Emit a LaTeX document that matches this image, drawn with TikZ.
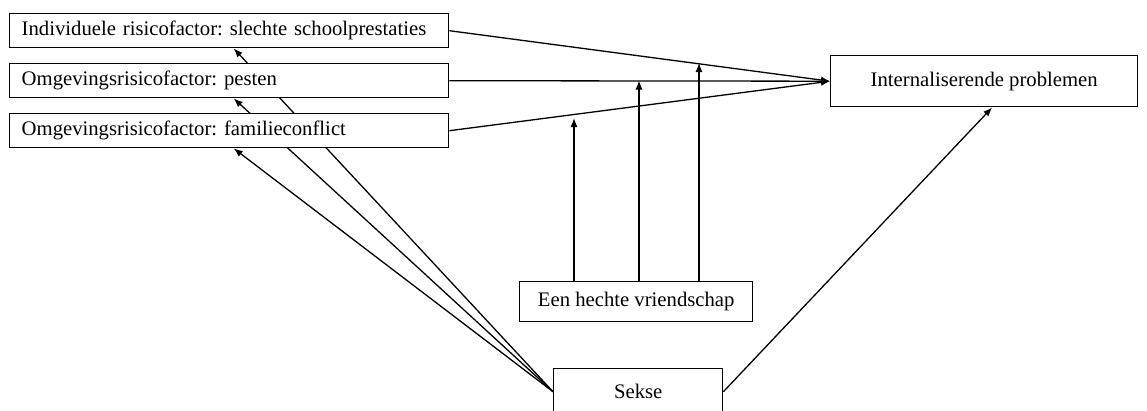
\documentclass[tikz,border=0pt]{standalone}
\usepackage{fontspec}
\setmainfont{Liberation Serif}
\usetikzlibrary{arrows.meta,calc,backgrounds}
\begin{document}
\frenchspacing
\begin{tikzpicture}[x=1pt,y=-1pt,
  box/.style={draw,line width=1.4pt,fill=white,rectangle,inner sep=0pt,font=\fontsize{20.7}{23}\selectfont},
  lbox/.style={box,minimum width=439pt,minimum height=34pt,text width=415pt,align=left},
  conn/.style={line width=1.3pt,-{Latex[length=9pt,width=7pt]}}]
\useasboundingbox (0,0) rectangle (1147,410);
% boxes
\node[lbox,anchor=north west] (b1) at (9,13) {Individuele risicofactor: slechte schoolprestaties};
\node[lbox,anchor=north west] (b2) at (9,63) {Omgevingsrisicofactor: pesten};
\node[lbox,anchor=north west] (b3) at (9,113) {Omgevingsrisicofactor: familieconflict};
\node[box,anchor=north west,minimum width=307pt,minimum height=51pt] (int) at (830,55) {Internaliserende problemen};
\node[box,anchor=north west,minimum width=233pt,minimum height=40pt] (vr) at (519,281) {Een hechte vriendschap};
\node[box,anchor=north west,minimum width=169pt,minimum height=46pt] (sx) at (553,368) {Sekse};
% points on the paths where moderation arrows end
\coordinate (m1) at (574,118);
\coordinate (m2) at (639,80.5);
\coordinate (m3) at (699,63);
\begin{scope}[on background layer]
% main effects
\draw[conn] (b1.east) -- (int.west);
\draw[conn] (b2.east) -- (int.west);
\draw[conn] (b3.east) -- (int.west);
% moderation
\draw[conn] (vr.north -| m1) -- (m1);
\draw[conn] (vr.north -| m2) -- (m2);
\draw[conn] (vr.north -| m3) -- (m3);
% sekse
\draw[conn] (sx.west) -- ([xshift=4.5pt]b1.south);
\draw[conn] (sx.west) -- ([xshift=4.5pt]b2.south);
\draw[conn] (sx.west) -- ([xshift=4.5pt]b3.south);
\draw[conn] (sx.east) -- ([xshift=8pt]int.south);
\end{scope}
\end{tikzpicture}
\end{document}
